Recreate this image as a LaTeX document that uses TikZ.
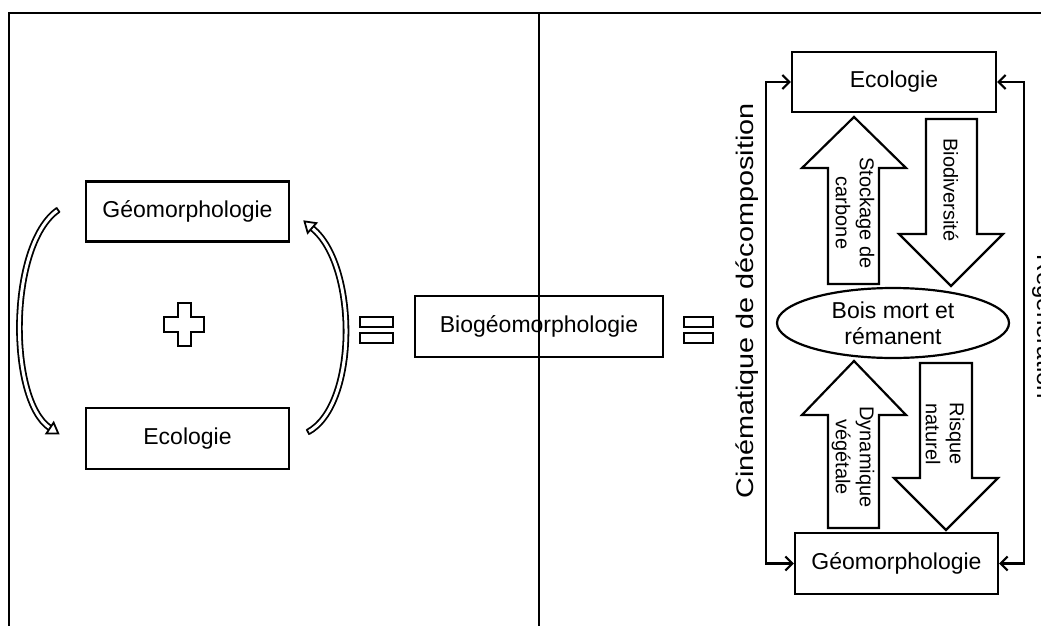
\documentclass[tikz,border=0pt]{standalone}
\usepackage{fontspec}
\setmainfont{Liberation Sans}
\usetikzlibrary{arrows.meta,shapes.geometric}
\begin{document}
\begin{tikzpicture}[x=1pt,y=-1pt,
  box/.style={draw,line width=2.2pt,inner sep=0pt,minimum width=203pt,minimum height=60pt,font=\fontsize{23}{27}\selectfont},
  blk/.style={draw,line width=2.2pt,fill=white,line join=miter},
  lbl/.style={rotate=-90,align=center,font=\fontsize{20}{24}\selectfont,inner sep=0pt},
  curv/.style={double=white,double distance=3pt,line width=1.8pt},
  head/.style={draw,fill=white,line width=1.8pt,line join=miter},
  con/.style={line width=2.2pt,{Straight Barb[length=7pt,width=14pt]}-{Straight Barb[length=7pt,width=14pt]}},
  frame/.style={line width=2.6pt}
]
\useasboundingbox (0,0) rectangle (1041,626);

% frame
\draw[frame] (8,13) -- (1041,13);
\draw[frame] (9,13) -- (9,626);

% left part
\node[box] (lgeo) at (187.5,211.5) {Géomorphologie};
\node[box,minimum height=61pt] (leco) at (187.5,438.5) {Ecologie};

% plus sign
\draw[blk] (178,303) -- (191,303) -- (191,317) -- (204,317) -- (204,332) -- (191,332) -- (191,346) -- (178,346) -- (178,332) -- (164,332) -- (164,317) -- (178,317) -- cycle;

% curved arrows
\draw[curv] (58,210) .. controls (8,245) and (8,400) .. (50,428);
\draw[head,shift={(50,428)},rotate=-33.7] (0,-6.5) -- (10,0) -- (0,6.5) -- cycle;
\draw[line width=1.8pt] (56.3,207.5) -- (59.7,212.5);

\draw[curv] (308,432) .. controls (358,405) and (358,265) .. (312,228);
\draw[head,shift={(312,228)},rotate=138.6] (0,-6.5) -- (10,0) -- (0,6.5) -- cycle;
\draw[line width=1.8pt] (306.6,429.4) -- (309.4,434.6);

% equal signs
\draw[line width=2.2pt] (360,317) rectangle (393,327) (360,333) rectangle (393,343);
\draw[line width=2.2pt] (684,317) rectangle (713,327) (684,333) rectangle (713,343);

% central box
\node[box,minimum width=248pt,minimum height=61pt] (bio) at (539,326.5) {Biogéomorphologie};

% divider
\draw[frame] (539,13) -- (539,626);

% right part
\node[box,minimum width=204pt] (eco) at (894,82) {Ecologie};
\node[box,minimum height=61pt] (geo) at (896.5,563.5) {Géomorphologie};
\node[draw,ellipse,line width=2.2pt,inner sep=0pt,minimum width=232pt,minimum height=70pt,align=center,font=\fontsize{23}{26}\selectfont] (bois) at (893,323) {Bois mort et\\rémanent};

% block arrows
\draw[blk] (854,117) -- (906,168) -- (879,168) -- (879,284) -- (828,284) -- (828,168) -- (802,168) -- cycle;
\draw[blk] (926,119) -- (977,119) -- (977,234) -- (1003,234) -- (951,286) -- (899,234) -- (926,234) -- cycle;
\draw[blk] (854,361) -- (906,415) -- (879,415) -- (879,528) -- (828,528) -- (828,415) -- (802,415) -- cycle;
\draw[blk] (920,363) -- (972,363) -- (972,478) -- (998,478) -- (946,530) -- (894,478) -- (920,478) -- cycle;

\node[lbl] (t1) at (855,213) {Stockage de\\carbone};
\node[lbl] (t2) at (951,190) {Biodiversité};
\node[lbl] (t3) at (853,457) {Dynamique\\végétale};
\node[lbl] (t4) at (945,434) {Risque\\naturel};

% side connectors
\coordinate (cl) at (766,0);
\coordinate (cr) at (1024,0);
\draw[con] (eco.west) -- (eco.west -| cl) -- (geo.west -| cl) -- (geo.west);
\draw[con] (eco.east) -- (eco.east -| cr) -- (geo.east -| cr) -- (geo.east);

\node[rotate=90,anchor=base,inner sep=0pt,font=\fontsize{24}{28}\selectfont] (cin) at (753,301) {\scalebox{1.2}[1]{Cinématique de décomposition}};
\node[rotate=-90,anchor=base,inner sep=0pt,font=\fontsize{24}{28}\selectfont] (reg) at (1037,327) {Régénération};
\end{tikzpicture}
\end{document}
